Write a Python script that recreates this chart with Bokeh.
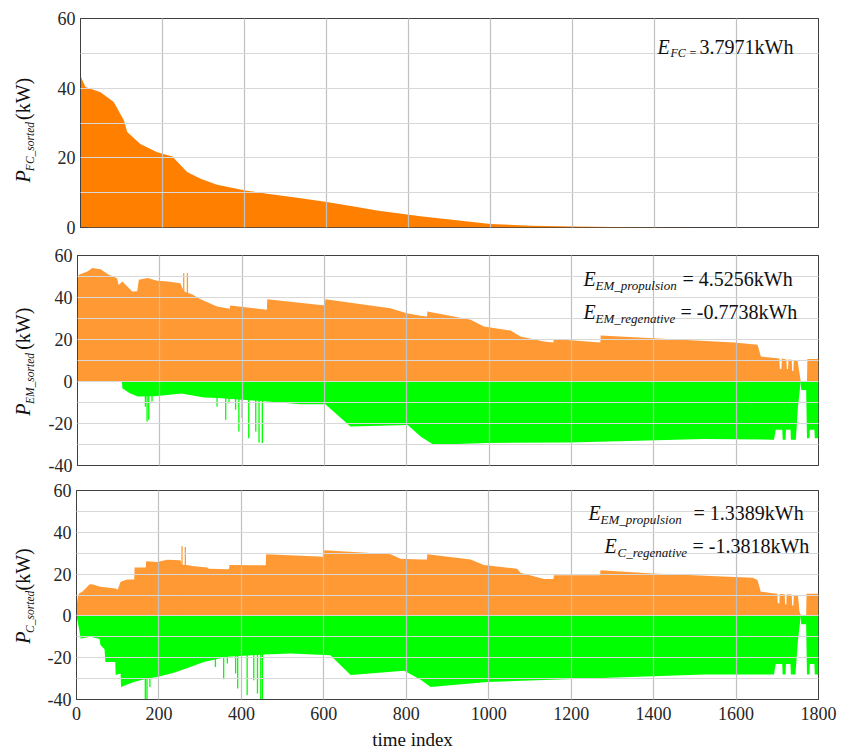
import math
from bokeh.plotting import figure
from bokeh.models import Range1d, FixedTicker, LinearAxis, Label
from bokeh.layouts import column, row
from bokeh.embed import file_html
from bokeh.resources import INLINE

# ---------------- data ----------------
x_ticks = [0, 200, 400, 600, 800, 1000, 1200, 1400, 1600, 1800]
y_ticks_fc = [0, 10, 20, 30, 40, 50, 60]
y_ticks_em = [-40, -30, -20, -10, 0, 10, 20, 30, 40, 50, 60]
y_labels_shown = [-40, -20, 0, 20, 40, 60]

# fuel-cell power, sorted (kW)
fc_curve = [(0, 44), (2, 43), (12, 40.3), (49, 38.8), (81, 36), (106, 30.7), (114, 27.4),
            (146, 24), (187, 21.6), (224, 20.4), (260, 15.9), (293, 14), (333, 12.3),
            (402, 10.6), (455, 9.7), (520, 8.7), (601, 7.3), (667, 6.0), (723, 4.9),
            (829, 3.2), (1000, 1.0), (1100, 0.5), (1203, 0.3), (1300, 0.15), (1504, 0), (1800, 0)]

# electric-motor power, sorted (kW)
em_prop = [(0, 48), (3, 50.8), (24, 52.4), (36, 54), (56, 53.4), (75, 51), (96, 49.2), (100, 46),
           (109, 47.6), (133, 42.9), (145, 43), (149, 48.5), (170, 49.3), (194, 48), (219, 47.6),
           (250, 46.8), (258, 43), (279, 41.4), (299, 39.2), (339, 35.7), (370, 34.6), (371, 36.2),
           (460, 34.2), (461, 39.2), (601, 36.2), (602, 39.2), (760, 34.9), (800, 32.5), (833, 31.3),
           (849, 31), (850, 33.3), (955, 29.4), (987, 26.2), (1052, 24.3), (1076, 21.4), (1133, 19),
           (1156, 18.6), (1157, 20.2), (1270, 18.6), (1271, 21.9), (1595, 18.6), (1652, 17.5),
           (1660, 11.9), (1700, 11.1), (1705, 11), (1706, 6), (1710, 6), (1711, 11), (1722, 10.5),
           (1723, 6), (1726, 6), (1727, 10.5), (1735, 10.3), (1736, 5), (1739, 5), (1740, 10),
           (1749, 10), (1757, 0), (1772, 0), (1773, 10.7), (1800, 10.7)]
em_regen = [(0, 0), (108, 0), (109, -3.2), (126, -5.5), (146, -7.1), (187, -7.0), (236, -6.1),
            (252, -5.7), (276, -6.5), (308, -7.6), (341, -7.9), (461, -9.5), (543, -10.8),
            (602, -10.8), (663, -21.4), (802, -20.7), (835, -26.4), (865, -30.1), (995, -29.3),
            (1197, -29), (1522, -27.4), (1692, -27.7), (1696, -23), (1712, -23), (1713, -27.7),
            (1720, -27.7), (1721, -23), (1732, -23), (1733, -27.7), (1745, -27.7), (1750, -12),
            (1757, 0), (1758, -4), (1770, -4), (1772, -27), (1778, -27), (1779, -23), (1790, -23),
            (1791, -27), (1800, -27)]
em_prop_spike_x = [258, 267]
em_prop_spike_y = [51.6, 51.6]
em_regen_spike_x = [165, 169, 173, 181, 339, 360, 368, 384, 392, 400, 416, 433, 441, 449]
em_regen_spike_y = [-12, -19, -18.2, -9.5, -11.9, -18.2, -10.3, -13.5, -23.8, -17.4, -27, -23.8, -29, -29.3]

# capacitor power, sorted (kW)
c_prop = [(0, 4), (3, 9), (6, 10.7), (14, 11.5), (22, 13.1), (32, 15.1), (40, 15), (58, 13.9),
          (95, 13.1), (100, 12.5), (107, 16.3), (123, 17.4), (140, 17.4), (141, 23.1), (168, 23.1),
          (169, 26.1), (196, 25.8), (220, 26.9), (252, 26.6), (256, 24.5), (268, 24.3), (285, 23.8),
          (317, 23.1), (321, 22.6), (370, 22.3), (371, 24.3), (459, 24.2), (460, 29.5), (600, 28.3),
          (601, 31.4), (762, 29.5), (786, 27.4), (835, 27), (850, 27), (851, 29.5), (956, 27),
          (988, 24.3), (1069, 22.6), (1077, 20.6), (1134, 17.6), (1157, 17.6), (1158, 19.5),
          (1270, 19.5), (1271, 21.9), (1397, 20.3), (1640, 18.3), (1652, 17.2), (1660, 11.6),
          (1689, 10.8), (1700, 10.6), (1701, 6), (1705, 6), (1706, 10.5), (1718, 10.4), (1719, 5.5),
          (1722, 5.5), (1723, 10.3), (1735, 10.2), (1736, 5), (1739, 5), (1740, 10), (1750, 10),
          (1754, 2), (1758, 0), (1770, 0), (1771, 10.6), (1800, 10.6)]
c_regen = [(0, 0), (2, -2), (6, -6), (10, -10.8), (34, -10), (56, -11), (58, -13.9), (68, -16),
           (70, -22), (94, -22), (95, -28.3), (107, -27.5), (108, -34), (139, -31.6), (171, -30),
           (196, -29.2), (236, -27.2), (276, -24.4), (309, -22), (366, -19.6), (455, -18.5),
           (519, -18), (616, -18.8), (665, -28.3), (795, -26.2), (835, -30.6), (859, -34),
           (996, -31.6), (1239, -30), (1522, -28), (1692, -28), (1696, -23), (1712, -23),
           (1713, -28), (1720, -28), (1721, -23), (1732, -23), (1733, -28), (1744, -28),
           (1750, -12), (1757, 0), (1758, -4), (1770, -4), (1772, -28), (1778, -28), (1779, -23),
           (1790, -23), (1791, -28), (1800, -28)]
c_prop_spike_x = [256, 264]
c_prop_spike_y = [33.3, 33]
c_regen_spike_x = [167, 171, 178, 337, 357, 366, 386, 391, 414, 430, 439, 447, 451]
c_regen_spike_y = [-40, -40, -34, -24.4, -30.3, -22.8, -27.6, -34.7, -37.9, -30.8, -37.1, -40, -40]

fc_energy = "3.7971kWh"
em_prop_energy = "4.5256kWh"
em_regen_energy = "-0.7738kWh"
c_prop_energy = "1.3389kWh"
c_regen_energy = "-1.3818kWh"

# ---------------- styling ----------------
FONT = "Liberation Serif"
ORANGE_DARK = "#FF8000"
ORANGE = "#FF9933"
GREEN = "#00FF00"
TXT = "#111111"
TICK_TXT = "#262626"
FRAME = "#404040"
STRIP_W = 44
PAGE_W = 847
MID = 0.3375  # distance from baseline to vertical middle of the text box, in em


def make_fig(height, left, top, bottom, y_lo, y_hi, y_ticks, show_x):
    p = figure(width=PAGE_W - STRIP_W, height=height, min_border_left=left - STRIP_W,
               min_border_right=29, min_border_top=top, min_border_bottom=bottom,
               x_range=Range1d(0, 1800), y_range=Range1d(y_lo, y_hi), title=None,
               toolbar_location=None, output_backend="svg")
    p.background_fill_color = "white"
    p.border_fill_color = "white"
    p.outline_line_color = FRAME
    p.outline_line_width = 1

    p.xgrid.ticker = FixedTicker(ticks=x_ticks)
    p.ygrid.ticker = FixedTicker(ticks=y_ticks)
    p.xgrid.grid_line_color = "#c0c0c0"
    p.ygrid.grid_line_color = "#d8d8d8"
    p.xgrid.grid_line_width = 1.2
    p.ygrid.grid_line_width = 1.2
    p.xgrid.level = "annotation"
    p.ygrid.level = "annotation"

    ya = p.yaxis[0]
    ya.ticker = FixedTicker(ticks=y_ticks)
    ya.major_label_overrides = {t: ("" if t not in y_labels_shown else str(t)) for t in y_ticks}
    ya.major_label_text_font = FONT
    ya.major_label_text_font_size = "18px"
    ya.major_label_text_color = TICK_TXT
    ya.major_label_standoff = 5
    ya.major_tick_in = 7
    ya.major_tick_out = 0
    ya.minor_tick_line_color = None
    ya.axis_line_color = FRAME
    ya.major_tick_line_color = FRAME

    ra = LinearAxis(ticker=FixedTicker(ticks=y_ticks),
                    major_label_overrides={t: "" for t in y_ticks},
                    major_tick_in=7, major_tick_out=0, minor_tick_line_color=None,
                    axis_line_color=None, major_tick_line_color=FRAME,
                    major_label_standoff=0)
    p.add_layout(ra, "right")

    xa = p.xaxis[0]
    if show_x:
        xa.ticker = FixedTicker(ticks=x_ticks)
        xa.major_label_text_font = FONT
        xa.major_label_text_font_size = "18px"
        xa.major_label_text_color = TICK_TXT
        xa.major_label_standoff = 7
        xa.major_tick_in = 7
        xa.major_tick_out = 0
        xa.minor_tick_line_color = None
        xa.axis_line_color = FRAME
        xa.major_tick_line_color = FRAME
    else:
        xa.visible = False
    return p


def strip(width, height, page_left, page_top):
    # blank figure whose data units are page pixels (y negated), used to hold texts
    s = figure(width=width, height=height, min_border=0, title=None,
               x_range=Range1d(page_left, page_left + width),
               y_range=Range1d(-(page_top + height), -page_top),
               x_axis_location=None, y_axis_location=None,
               toolbar_location=None, output_backend="svg")
    s.grid.visible = False
    s.outline_line_color = None
    s.background_fill_color = "white"
    s.border_fill_color = "white"
    return s


def area(p, pts, color):
    xs = [a for a, b in pts]
    ys = [b for a, b in pts]
    p.varea(x=xs, y1=[0] * len(xs), y2=ys, fill_color=color, fill_alpha=1.0)


def spikes(p, sx, sy, color):
    p.segment(x0=sx, y0=[0] * len(sx), x1=sx, y1=sy, line_color=color, line_width=1.3)


def put(p, left, fbottom, px, py, text, size, style="normal", align="left"):
    # text inside a panel's frame; (px, py) = start of the baseline in page pixels
    cy = py - MID * size
    p.add_layout(Label(x=px - left, y=fbottom - cy, x_units="screen", y_units="screen",
                       text=text, text_font=FONT, text_font_size=f"{size}px",
                       text_font_style=style, text_color=TXT, text_align=align,
                       text_baseline="middle"))


def put_strip(s, px, py, text, size, style="normal", vertical=False, align="left"):
    if vertical:
        cx, cy, ang = px - MID * size, py, math.pi / 2
    else:
        cx, cy, ang = px, py - MID * size, 0.0
    s.add_layout(Label(x=cx, y=-cy, text=text, text_font=FONT, text_font_size=f"{size}px",
                       text_font_style=style, text_color=TXT, text_align=align,
                       text_baseline="middle", angle=ang))


# ---------------- panel 1: fuel cell ----------------
L1, B1 = 80, 227
p1 = make_fig(241, L1, 18, 14, 0, 60, y_ticks_fc, False)
area(p1, fc_curve, ORANGE_DARK)
put(p1, L1, B1, 657, 53, "E", 20, "italic")
put(p1, L1, B1, 670, 57, "FC =", 12, "italic")
put(p1, L1, B1, 699, 53, fc_energy, 20)
s1 = strip(STRIP_W, 241, 0, 0)
put_strip(s1, 29, 189, "P", 20, "italic", True)
put_strip(s1, 33, 176, "FC_sorted", 11.5, "italic", True)
put_strip(s1, 29, 117, "(kW)", 20, "normal", True)

# ---------------- panel 2: electric motor ----------------
L2, B2 = 77, 465
p2 = make_fig(236, L2, 14, 12, -40, 60, y_ticks_em, False)
area(p2, em_prop, ORANGE)
area(p2, em_regen, GREEN)
spikes(p2, em_prop_spike_x, em_prop_spike_y, ORANGE)
spikes(p2, em_regen_spike_x, em_regen_spike_y, GREEN)
put(p2, L2, B2, 583, 285, "E", 20, "italic")
put(p2, L2, B2, 595, 289, "EM_propulsion", 13, "italic")
put(p2, L2, B2, 682, 285, "= " + em_prop_energy, 20)
put(p2, L2, B2, 583, 318, "E", 20, "italic")
put(p2, L2, B2, 595, 322, "EM_regenative", 13, "italic")
put(p2, L2, B2, 680, 318, "= " + em_regen_energy, 20)
s2 = strip(STRIP_W, 236, 0, 241)
put_strip(s2, 29, 421, "P", 20, "italic", True)
put_strip(s2, 33, 408, "EM_sorted", 11.5, "italic", True)
put_strip(s2, 29, 347, "(kW)", 20, "normal", True)

# ---------------- panel 3: capacitor ----------------
L3, B3 = 76, 699
BOT_H = 22
p3 = make_fig(273 - BOT_H, L3, 13, 51 - BOT_H, -40, 60, y_ticks_em, True)
area(p3, c_prop, ORANGE)
area(p3, c_regen, GREEN)
spikes(p3, c_prop_spike_x, c_prop_spike_y, ORANGE)
spikes(p3, c_regen_spike_x, c_regen_spike_y, GREEN)
put(p3, L3, B3, 588, 519, "E", 20, "italic")
put(p3, L3, B3, 600, 523, "EM_propulsion", 13, "italic")
put(p3, L3, B3, 693, 519, "= " + c_prop_energy, 20)
put(p3, L3, B3, 604, 552, "E", 20, "italic")
put(p3, L3, B3, 617, 556, "C_regenative", 13, "italic")
put(p3, L3, B3, 692, 552, "= " + c_regen_energy, 20)
s3 = strip(STRIP_W, 273 - BOT_H, 0, 477)
put_strip(s3, 29, 661, "P", 20, "italic", True)
put_strip(s3, 33, 648, "C_sorted", 11.5, "italic", True)
put_strip(s3, 29, 597, "(kW)", 20, "normal", True)

s4 = strip(PAGE_W, BOT_H, 0, 750 - BOT_H)
put_strip(s4, 412, 745.5, "time index", 19, "normal", False, "center")

layout = column(row(s1, p1, spacing=0), row(s2, p2, spacing=0), row(s3, p3, spacing=0), s4,
                spacing=0)
open("out.html", "w").write(file_html(layout, INLINE))
